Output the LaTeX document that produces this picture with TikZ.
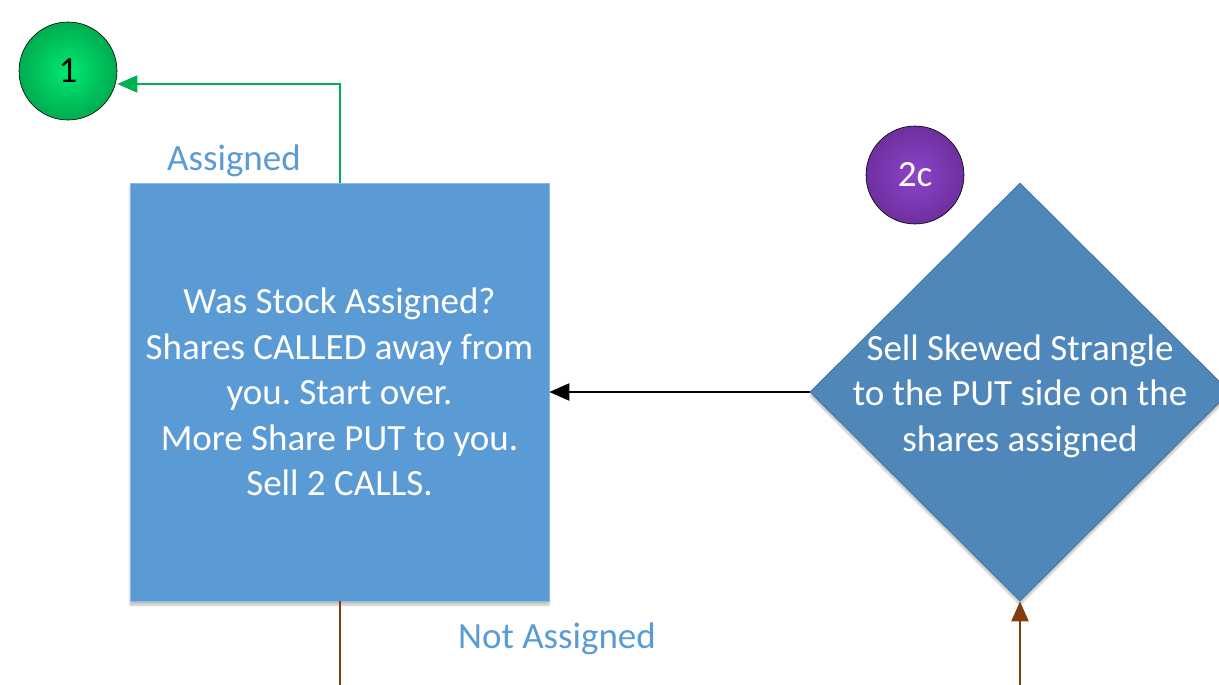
\documentclass[tikz,border=0pt]{standalone}
\usepackage{fontspec}
\setmainfont{Carlito}
\usetikzlibrary{arrows.meta,shapes.geometric,shadows.blur}
\definecolor{boxblue}{HTML}{5B9BD5}
\definecolor{diablue}{HTML}{4F87BA}
\definecolor{diaedge}{HTML}{41719C}
\definecolor{greenin}{HTML}{00EA70}
\definecolor{greenout}{HTML}{00AC50}
\definecolor{purpin}{HTML}{8E44CC}
\definecolor{purpout}{HTML}{6E2F9E}
\definecolor{brownline}{HTML}{843C0C}
\definecolor{greenline}{HTML}{00B050}
\frenchspacing
\begin{document}
\begin{tikzpicture}[x=1pt,y=-1pt,
  txt/.style={font=\fontsize{37}{45.5}\selectfont, align=center},
  lbl/.style={txt, text=boxblue},
  softshadow/.style={blur shadow={shadow xshift=0pt, shadow yshift=-4pt, shadow blur steps=6, shadow opacity=25}},
  stepnode/.style={rectangle, fill=boxblue, draw=boxblue!70!white, line width=0.6pt,
    minimum width=419pt, minimum height=418pt, inner sep=0pt, softshadow},
  decision/.style={diamond, fill=diablue, draw=diaedge, line width=0.8pt,
    minimum width=420pt, minimum height=418pt, inner sep=0pt, softshadow},
  connector/.style={circle, draw=black, line width=0.6pt, minimum size=98pt, inner sep=0pt, txt},
  link/.style={line width=2pt, -{Triangle[length=20pt,width=17pt]}}
]
\useasboundingbox (0,0) rectangle (1219,685);
\clip (0,0) rectangle (1219,685);

% decision step and main question box
\node[decision] (dia) at (1020,392) {};
\node[txt, text=white] (diatext) at (1020,396) {Sell Skewed Strangle\\to the PUT side on the\\shares assigned};

\node[stepnode] (box) at (339.5,392) {};
\node[txt, text=white] (boxtext) at (box.center) {Was Stock Assigned?\\Shares CALLED away from\\you. Start over.\\More Share PUT to you.\\Sell 2 CALLS.};

% off-page connectors
\node[connector, inner color=greenin, outer color=greenout, text=black] (c1) at (68,71) {1};
\node[connector, inner color=purpin, outer color=purpout, text=white] (c2c) at (915,175) {2c};

% branch labels
\node[lbl] (lassigned) at (234,161) {Assigned};
\node[lbl] (lnot) at (557,639) {Not Assigned};

% loose ends of the connectors leaving the picture
\coordinate (downend) at (340,690);
\coordinate (upstart) at (1020,690);
\coordinate (boxtop) at (340,183);

% connectors
\draw[link, draw=greenline] (boxtop) |- (c1.east |- 0,84);
\draw[link, draw=black] (dia.west) -- (box.east |- dia.west);
\draw[line width=2.4pt, draw=brownline] (box.south -| downend) -- (downend);
\draw[link, line width=2.4pt, draw=brownline] (upstart) -- (dia.south);
\end{tikzpicture}
\end{document}
